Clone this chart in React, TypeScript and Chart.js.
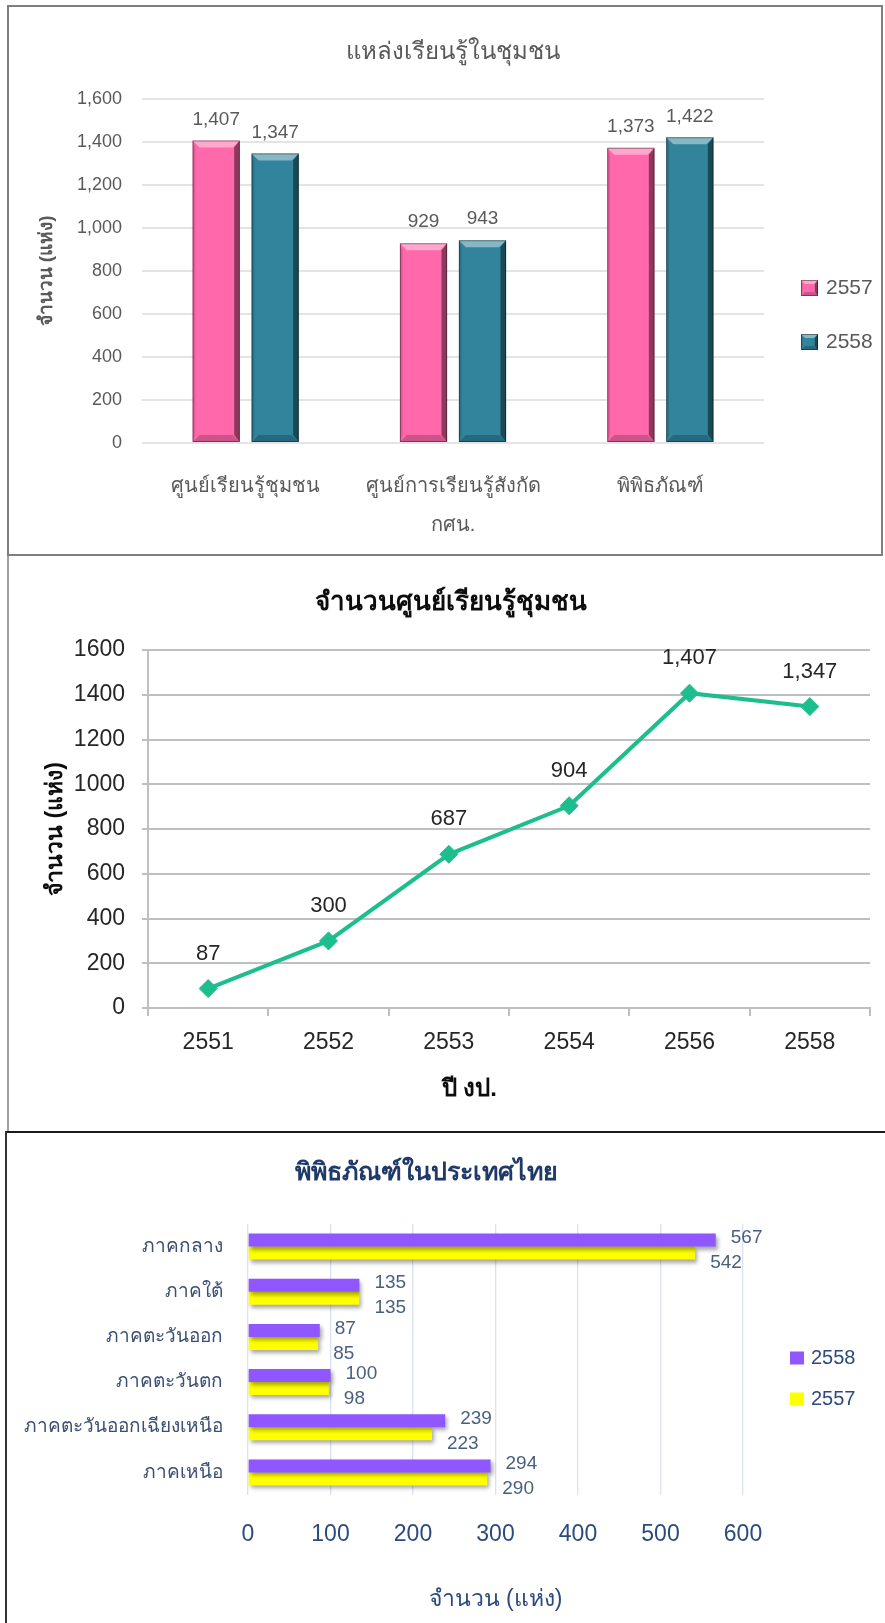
import React, { useEffect, useRef } from 'react';
import { Chart, registerables } from 'chart.js';

Chart.register(...registerables);

const FONT = "'Liberation Sans Narrow', 'Liberation Sans', 'Noto Sans', sans-serif";

// ---------- Chart 1 data ----------
const c1Title = 'แหล่งเรียนรู้ในชุมชน';
const c1Categories: (string | string[])[] = ['ศูนย์เรียนรู้ชุมชน', ['ศูนย์การเรียนรู้สังกัด', 'กศน.'], 'พิพิธภัณฑ์'];
const c1SeriesNames = ['2557', '2558'];
const c1Values2557 = [1407, 929, 1373];
const c1Values2558 = [1347, 943, 1422];
const c1YTitle = 'จำนวน (แห่ง)';
const c1YMax = 1600;
const c1YStep = 200;

// ---------- Chart 2 data ----------
const c2Title = 'จำนวนศูนย์เรียนรู้ชุมชน';
const c2Years = ['2551', '2552', '2553', '2554', '2556', '2558'];
const c2Values = [87, 300, 687, 904, 1407, 1347];
const c2YTitle = 'จำนวน (แห่ง)';
const c2XTitle = 'ปี งป.';
const c2YMax = 1600;
const c2YStep = 200;

// ---------- Chart 3 data ----------
const c3Title = 'พิพิธภัณฑ์ในประเทศไทย';
const c3Regions = ['ภาคกลาง', 'ภาคใต้', 'ภาคตะวันออก', 'ภาคตะวันตก', 'ภาคตะวันออกเฉียงเหนือ', 'ภาคเหนือ'];
const c3SeriesNames = ['2558', '2557'];
const c3Values2558 = [567, 135, 87, 100, 239, 294];
const c3Values2557 = [542, 135, 85, 98, 223, 290];
const c3XTitle = 'จำนวน (แห่ง)';
const c3XMax = 600;
const c3XStep = 100;

const fmt = (v: number) => Number(v).toLocaleString('en-US');

function poly(ctx: CanvasRenderingContext2D, pts: number[][], color: string) {
  ctx.beginPath();
  ctx.moveTo(pts[0][0], pts[0][1]);
  for (let i = 1; i < pts.length; i++) ctx.lineTo(pts[i][0], pts[i][1]);
  ctx.closePath();
  ctx.fillStyle = color;
  ctx.fill();
}

function bevel(ctx: CanvasRenderingContext2D, l: number, t: number, r: number, b: number, e: number) {
  poly(ctx, [[l, t], [r, t], [r - e, t + e], [l + e, t + e]], 'rgba(255,255,255,0.42)');
  poly(ctx, [[r, t], [r, b], [r - e * 0.8, b - e], [r - e * 0.8, t + e]], 'rgba(0,0,0,0.45)');
  poly(ctx, [[l, b], [r, b], [r - e, b - e], [l + e, b - e]], 'rgba(0,0,0,0.2)');
  poly(ctx, [[l, t], [l + e * 0.4, t + e], [l + e * 0.4, b - e], [l, b]], 'rgba(0,0,0,0.12)');
  ctx.strokeStyle = 'rgba(0,0,0,0.38)';
  ctx.lineWidth = 1;
  ctx.strokeRect(l + 0.5, t + 0.5, r - l - 1, b - t - 1);
}

const bevelPlugin = {
  id: 'bevelBars',
  afterDatasetsDraw(chart: any) {
    const ctx = chart.ctx;
    ctx.save();
    chart.data.datasets.forEach((_ds: any, di: number) => {
      const meta = chart.getDatasetMeta(di);
      meta.data.forEach((bar: any) => {
        const p = bar.getProps(['x', 'y', 'base', 'width'], true);
        bevel(ctx, p.x - p.width / 2, p.y, p.x + p.width / 2, p.base, 7);
      });
    });
    ctx.restore();
  },
};

// moves the native title block so that its centre sits at cx (canvas px)
function titleCenter(cx: number) {
  return {
    id: 'titleCenter',
    afterLayout(chart: any) {
      const t = chart.titleBlock;
      if (!t) return;
      const w = t.right - t.left;
      t.left = cx - w / 2;
      t.right = cx + w / 2;
    },
  };
}

function boxLegend(o: { x: number; y: number; gap: number; bw: number; bh: number; tx: number; size: number; color: string; bevel?: boolean }) {
  return {
    id: 'boxLegend',
    afterDraw(chart: any) {
      const ctx = chart.ctx;
      ctx.save();
      chart.data.datasets.forEach((ds: any, i: number) => {
        const cy = o.y + i * o.gap;
        ctx.fillStyle = ds.backgroundColor;
        ctx.fillRect(o.x, cy - o.bh / 2, o.bw, o.bh);
        if (o.bevel) bevel(ctx, o.x, cy - o.bh / 2, o.x + o.bw, cy + o.bh / 2, 4);
        ctx.fillStyle = o.color;
        ctx.font = `${o.size}px ${FONT}`;
        ctx.textAlign = 'left';
        ctx.textBaseline = 'middle';
        ctx.fillText(ds.label, o.tx, cy);
      });
      ctx.restore();
    },
  };
}

function makeChart1(): any {
  return {
    type: 'bar',
    data: {
      labels: c1Categories,
      datasets: [
        { label: c1SeriesNames[0], data: c1Values2557, backgroundColor: '#FF69AB', categoryPercentage: 0.569, barPercentage: 0.8 },
        { label: c1SeriesNames[1], data: c1Values2558, backgroundColor: '#31849B', categoryPercentage: 0.569, barPercentage: 0.8 },
      ],
    },
    options: {
      responsive: false,
      animation: false,
      layout: { padding: { left: 0, right: 121, top: 0, bottom: 0 } },
      plugins: {
        legend: { display: false },
        tooltip: { enabled: false },
        title: {
          display: true,
          text: c1Title,
          color: '#595959',
          font: { family: FONT, size: 24, weight: 'normal' },
          padding: { top: 37.6, bottom: 32.6 },
        },
      },
      scales: {
        y: {
          min: 0,
          max: c1YMax,
          afterFit: (s: any) => { s.width = 142; },
          ticks: { stepSize: c1YStep, padding: 20, color: '#595959', font: { family: FONT, size: 18 }, callback: (v: any) => fmt(v) },
          grid: { color: '#E4E4E4', lineWidth: 2, drawTicks: false },
          border: { display: false },
          title: {
            display: true,
            text: c1YTitle,
            color: '#595959',
            font: { family: FONT, size: 19, weight: 'bold' },
            padding: { top: 35.6, bottom: 0 },
          },
        },
        x: {
          afterFit: (s: any) => { s.height = 113; },
          ticks: { padding: 23.5, color: '#595959', font: { family: FONT, size: 20, lineHeight: 1.95 }, autoSkip: false, maxRotation: 0 },
          grid: { display: false, drawTicks: false },
          border: { display: false },
        },
      },
    },
    plugins: [
      titleCenter(453),
      bevelPlugin,
      {
        id: 'c1Labels',
        afterDraw(chart: any) {
          const ctx = chart.ctx;
          ctx.save();
          ctx.fillStyle = '#595959';
          ctx.font = `19px ${FONT}`;
          ctx.textAlign = 'center';
          ctx.textBaseline = 'middle';
          chart.data.datasets.forEach((ds: any, di: number) => {
            chart.getDatasetMeta(di).data.forEach((bar: any, i: number) => {
              ctx.fillText(fmt(ds.data[i]), bar.x, bar.y - 21);
            });
          });
          ctx.restore();
        },
      },
      boxLegend({ x: 801, y: 288, gap: 54, bw: 17, bh: 16, tx: 826, size: 21, color: '#595959', bevel: true }),
    ],
  };
}

function makeChart2(): any {
  return {
    type: 'line',
    data: {
      labels: c2Years,
      datasets: [
        {
          label: c2Title,
          data: c2Values,
          borderColor: '#1DBE8E',
          backgroundColor: '#1DBE8E',
          borderWidth: 4,
          pointStyle: 'rectRot',
          pointRadius: 9,
          pointBorderWidth: 1,
          pointBackgroundColor: '#1DBE8E',
          pointBorderColor: '#1DBE8E',
          tension: 0,
        },
      ],
    },
    options: {
      responsive: false,
      animation: false,
      layout: { padding: { left: 32, right: 15, top: 0, bottom: 0 } },
      plugins: {
        legend: { display: false },
        tooltip: { enabled: false },
        title: {
          display: true,
          text: c2Title,
          color: '#0D0D0D',
          font: { family: FONT, size: 26, weight: 'bold' },
          padding: { top: 31.4, bottom: 31.4 },
        },
      },
      scales: {
        y: {
          min: 0,
          max: c2YMax,
          afterFit: (s: any) => { s.width = 116; },
          ticks: { stepSize: c2YStep, padding: 17, color: '#262626', font: { family: FONT, size: 23 }, callback: (v: any) => String(v) },
          grid: { color: '#BFBFBF', lineWidth: 2, drawTicks: true, tickLength: 6 },
          border: { color: '#BFBFBF', width: 2 },
          title: {
            display: true,
            text: c2YTitle,
            color: '#0D0D0D',
            font: { family: FONT, size: 23, weight: 'bold' },
            padding: { top: 10.2, bottom: 0 },
          },
        },
        x: {
          offset: true,
          afterFit: (s: any) => { s.height = 123; },
          ticks: { padding: 13.2, color: '#262626', font: { family: FONT, size: 23 }, autoSkip: false, maxRotation: 0 },
          grid: { offset: true, drawOnChartArea: false, drawTicks: true, tickLength: 8, color: '#BFBFBF', lineWidth: 2 },
          border: { color: '#BFBFBF', width: 2 },
        },
      },
    },
    plugins: [
      {
        id: 'c2Labels',
        afterDraw(chart: any) {
          const ctx = chart.ctx;
          const ca = chart.chartArea;
          ctx.save();
          ctx.fillStyle = '#262626';
          ctx.font = `22px ${FONT}`;
          ctx.textAlign = 'center';
          ctx.textBaseline = 'middle';
          const ds = chart.data.datasets[0];
          chart.getDatasetMeta(0).data.forEach((pt: any, i: number) => {
            ctx.fillText(fmt(ds.data[i]), pt.x, pt.y - 35);
          });
          ctx.fillStyle = '#0D0D0D';
          ctx.font = `bold 24px ${FONT}`;
          ctx.fillText(c2XTitle, ca.left + ca.width * 0.445, ca.bottom + 81);
          ctx.restore();
        },
      },
    ],
  };
}

function makeChart3(): any {
  return {
    type: 'bar',
    data: {
      labels: c3Regions,
      datasets: [
        { label: c3SeriesNames[0], data: c3Values2558, backgroundColor: '#9056FF', categoryPercentage: 0.576, barPercentage: 1 },
        { label: c3SeriesNames[1], data: c3Values2557, backgroundColor: '#FFFF00', categoryPercentage: 0.576, barPercentage: 1 },
      ],
    },
    options: {
      indexAxis: 'y',
      responsive: false,
      animation: false,
      layout: { padding: { left: 0, right: 142, top: 0, bottom: 0 } },
      plugins: {
        legend: { display: false },
        tooltip: { enabled: false },
        title: {
          display: true,
          text: c3Title,
          color: '#1F3A68',
          font: { family: FONT, size: 25, weight: 'bold' },
          padding: { top: 26, bottom: 36 },
        },
      },
      scales: {
        y: {
          afterFit: (s: any) => { s.width = 248; },
          ticks: { padding: 25, color: '#3B4F73', font: { family: FONT, size: 19 }, autoSkip: false },
          grid: { display: false, drawTicks: false },
          border: { display: false },
        },
        x: {
          min: 0,
          max: c3XMax,
          afterFit: (s: any) => { s.height = 128; },
          ticks: { stepSize: c3XStep, padding: 26.2, color: '#2B4A80', font: { family: FONT, size: 23 } },
          grid: { color: '#D9E1F2', lineWidth: 1.3, drawTicks: false },
          border: { display: false },
          title: {
            display: true,
            text: c3XTitle,
            color: '#2B4A80',
            font: { family: FONT, size: 23 },
            padding: { top: 0, bottom: 9.2 },
          },
        },
      },
    },
    plugins: [
      titleCenter(426),
      {
        id: 'barShadow',
        beforeDatasetsDraw(chart: any) {
          const c = chart.ctx;
          c.save();
          c.shadowColor = 'rgba(0,0,0,0.35)';
          c.shadowBlur = 4;
          c.shadowOffsetX = 2;
          c.shadowOffsetY = 3;
        },
        afterDatasetsDraw(chart: any) {
          chart.ctx.restore();
        },
      },
      {
        id: 'c3Labels',
        afterDraw(chart: any) {
          const ctx = chart.ctx;
          ctx.save();
          ctx.fillStyle = '#4A5F80';
          ctx.font = `19px ${FONT}`;
          ctx.textAlign = 'left';
          ctx.textBaseline = 'middle';
          chart.data.datasets.forEach((ds: any, di: number) => {
            chart.getDatasetMeta(di).data.forEach((bar: any, i: number) => {
              ctx.fillText(String(ds.data[i]), bar.x + 15, bar.y + (di === 0 ? -2 : 10));
            });
          });
          ctx.restore();
        },
      },
      boxLegend({ x: 790, y: 226, gap: 41, bw: 14, bh: 13, tx: 811, size: 20, color: '#2E4A7A' }),
    ],
  };
}

function ChartCanvas({ make, left, top, width, height }: { make: () => any; left: number; top: number; width: number; height: number }) {
  const ref = useRef<HTMLCanvasElement | null>(null);
  useEffect(() => {
    if (!ref.current) return;
    const chart = new Chart(ref.current, make());
    return () => chart.destroy();
  }, []);
  return <canvas ref={ref} width={width} height={height} style={{ position: 'absolute', left, top, width, height }} />;
}

export default function App() {
  return (
    <div style={{ position: 'absolute', left: 0, top: 0, width: 885, height: 1623, overflow: 'hidden', background: '#ffffff' }}>
      <div style={{ position: 'absolute', left: 7, top: 5, width: 876, height: 551, boxSizing: 'border-box', border: '2px solid #7F7F7F' }} />
      <div style={{ position: 'absolute', left: 7, top: 556, width: 2, height: 575, background: '#A0A0A0' }} />
      <div style={{ position: 'absolute', left: 5, top: 1131, width: 880, height: 2, background: '#1A1A1A' }} />
      <div style={{ position: 'absolute', left: 5, top: 1131, width: 2, height: 492, background: '#333333' }} />
      <ChartCanvas make={makeChart1} left={0} top={0} width={885} height={556} />
      <ChartCanvas make={makeChart2} left={0} top={556} width={885} height={575} />
      <ChartCanvas make={makeChart3} left={0} top={1132} width={885} height={491} />
    </div>
  );
}
